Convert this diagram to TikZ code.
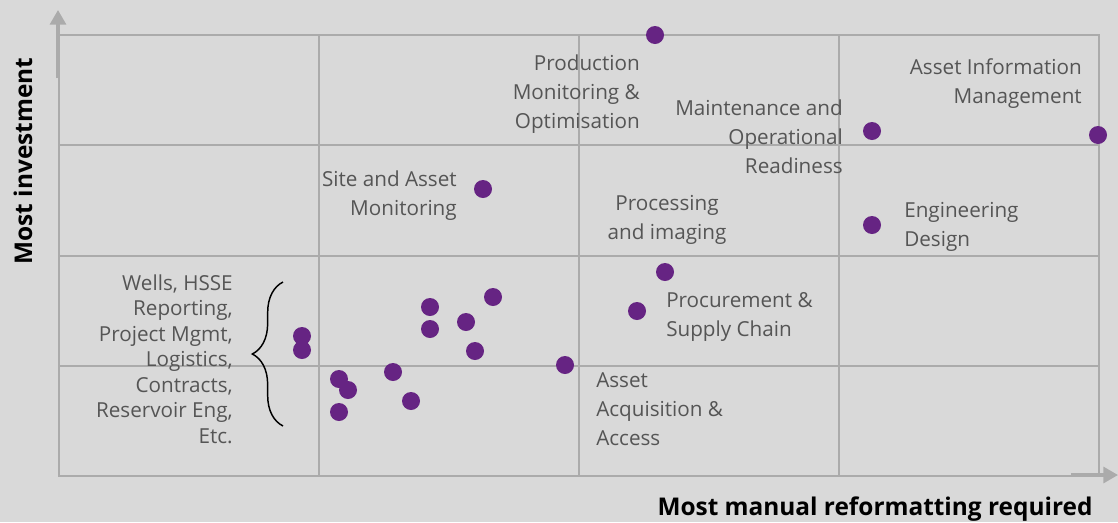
\documentclass[tikz,border=0pt]{standalone}
\usepackage{fontspec}
\setmainfont{Open Sans}
\usepackage{tikz}
\usetikzlibrary{decorations.pathreplacing, arrows.meta}

\definecolor{bgGrey}{HTML}{D9D9D9}
\definecolor{gridGrey}{HTML}{ABABAB}
\definecolor{txtGrey}{HTML}{555555}
\definecolor{dotPurple}{HTML}{662483}

\begin{document}
\begin{tikzpicture}[x=0.75pt, y=-0.75pt, >={Triangle[length=11pt, width=12pt]},
    dot/.style = {circle, fill = dotPurple, inner sep = 0pt, minimum size = 13.5pt},
    lbl/.style = {inner sep = 0pt, text = txtGrey, font = \fontsize{15.5}{21.75}\selectfont},
    axlbl/.style = {inner sep = 0pt, font = \fontsize{18.3}{22}\selectfont\bfseries}]
        \begin{scope}
            \fill [bgGrey] (0,0) rectangle (1118,522);
            \useasboundingbox (0,0) rectangle (1118,522);
            % grid
            \draw [gridGrey, line width = 1.5pt] (59,35) rectangle (1099,476);
            \draw [gridGrey, line width = 1.5pt] (319,35) -- (319,476) (579,35) -- (579,476) (839,35) -- (839,476);
            \draw [gridGrey, line width = 1.5pt] (59,145) -- (1099,145) (59,256) -- (1099,256) (59,366) -- (1099,366);
            % axes
            \coordinate (ya) at (58,78);
            \coordinate (yb) at (58,10);
            \coordinate (xa) at (1071,475);
            \coordinate (xb) at (1118,475);
            \draw [->, gridGrey, line width = 2.4pt] (ya) -- (yb);
            \draw [->, gridGrey, line width = 2.4pt] (xa) -- (xb);
            \node [axlbl, rotate = 90] (yl) at (23,161) {Most investment};
            \node [axlbl] (xl) at (875,509) {Most manual reformatting required};
            % labels
            \node [lbl, align = right, anchor = east] (prod) at (640,94) {Production\\Monitoring \&\\Optimisation};
            \node [lbl, align = right, anchor = east] (maint) at (843,137) {Maintenance and\\Operational\\Readiness};
            \node [lbl, align = right, anchor = east] (aim) at (1082,84) {Asset Information\\Management};
            \node [lbl, align = right, anchor = east] (site) at (457,196) {Site and Asset\\Monitoring};
            \node [lbl, align = center] (proc) at (667,220) {Processing\\and imaging};
            \node [lbl, align = left, anchor = west] (eng) at (904,227) {Engineering\\Design};
            \node [lbl, align = left, anchor = west] (procure) at (666,317) {Procurement \&\\Supply Chain};
            \node [lbl, align = left, anchor = west] (acq) at (596,409) {Asset\\Acquisition \&\\Access};
            \node [lbl, align = right, anchor = east, font = \fontsize{15.5}{19.1}\selectfont] (wells) at (233,359) {Wells, HSSE\\Reporting,\\Project Mgmt,\\Logistics,\\Contracts,\\Reservoir Eng,\\Etc.};
            % brace
            \coordinate (bra) at (283,282);
            \coordinate (brb) at (283,426);
            \draw [decorate, decoration = {brace, amplitude = 23pt}, line width = 1.1pt] (brb) -- (bra);
            % dots
            \node [dot] (d1) at (655,35) {};
            \node [dot] (d2) at (872,131) {};
            \node [dot] (d3) at (1098,135) {};
            \node [dot] (d4) at (483,189) {};
            \node [dot] (d5) at (872,225) {};
            \node [dot] (d6) at (665,272) {};
            \node [dot] (d7) at (637,311) {};
            \node [dot] (d8) at (302,336) {};
            \node [dot] (d9) at (302,350) {};
            \node [dot] (d10) at (430,307) {};
            \node [dot] (d11) at (430,329) {};
            \node [dot] (d12) at (466,322) {};
            \node [dot] (d13) at (493,297) {};
            \node [dot] (d14) at (475,351) {};
            \node [dot] (d15) at (565,365) {};
            \node [dot] (d16) at (339,379) {};
            \node [dot] (d17) at (348,390) {};
            \node [dot] (d18) at (339,412) {};
            \node [dot] (d19) at (393,372) {};
            \node [dot] (d20) at (411,401) {};
        \end{scope}
\end{tikzpicture}
\end{document}
